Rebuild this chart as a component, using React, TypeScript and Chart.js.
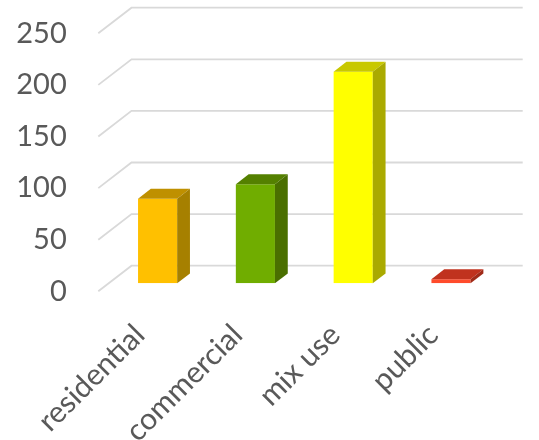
import React, { useEffect, useRef } from "react";
import { Chart, registerables } from "chart.js";

Chart.register(...registerables);

const categories = ["residential", "commercial", "mix use", "public"];
const values = [82, 96, 205, 4];
const frontColors = ["#FFC000", "#70AD00", "#FFFF00", "#FF4B2B"];
const topColors = ["#BF9000", "#548000", "#C8C800", "#C0321E"];
const sideColors = ["#A68000", "#4A6F00", "#AAAA00", "#A02A18"];
const yTickValues = [0, 50, 100, 150, 200, 250];

// Oblique projection offsets, relative to the plane of the bar fronts
const WALL_BACK = { dx: 22.8, dy: -17.6 };
const WALL_FRONT = { dx: -10.4, dy: 8 };
const BAR_DEPTH = { dx: 12.8, dy: -9.9 };

const FONT = "Lato, 'Open Sans', sans-serif";

const depthPlugin = {
  id: "depth3d",
  beforeDatasetsDraw(chart: any) {
    const { ctx, chartArea, scales } = chart;
    const y = scales.y;
    ctx.save();
    ctx.strokeStyle = "#D9D9D9";
    ctx.lineWidth = 1.8;
    ctx.lineJoin = "miter";
    for (const v of yTickValues) {
      const py = y.getPixelForValue(v);
      ctx.beginPath();
      ctx.moveTo(chartArea.left + WALL_FRONT.dx, py + WALL_FRONT.dy);
      ctx.lineTo(chartArea.left + WALL_BACK.dx, py + WALL_BACK.dy);
      ctx.lineTo(chartArea.right + WALL_BACK.dx, py + WALL_BACK.dy);
      ctx.stroke();
    }
    ctx.restore();
  },
  afterDatasetsDraw(chart: any) {
    const { ctx } = chart;
    const meta = chart.getDatasetMeta(0);
    ctx.save();
    meta.data.forEach((bar: any, i: number) => {
      const { x, y, base, width } = bar.getProps(["x", "y", "base", "width"], true);
      const l = x - width / 2;
      const r = x + width / 2;
      const t = Math.min(y, base);
      const b = Math.max(y, base);
      const { dx, dy } = BAR_DEPTH;
      // top face
      ctx.fillStyle = topColors[i];
      ctx.beginPath();
      ctx.moveTo(l, t);
      ctx.lineTo(l + dx, t + dy);
      ctx.lineTo(r + dx, t + dy);
      ctx.lineTo(r, t);
      ctx.closePath();
      ctx.fill();
      // side face
      ctx.fillStyle = sideColors[i];
      ctx.beginPath();
      ctx.moveTo(r, t);
      ctx.lineTo(r + dx, t + dy);
      ctx.lineTo(r + dx, b + dy);
      ctx.lineTo(r, b);
      ctx.closePath();
      ctx.fill();
    });
    ctx.restore();
  },
};

// Fixed axis box sizes, with no extra label overhang padding
const fixBox = (size: { width?: number; height?: number }) => (s: any) => {
  if (size.width !== undefined) s.width = size.width;
  if (size.height !== undefined) s.height = size.height;
  s.paddingTop = 0;
  s.paddingBottom = 0;
  s.paddingLeft = 0;
  s.paddingRight = 0;
};

export default function App() {
  const canvasRef = useRef<HTMLCanvasElement | null>(null);

  useEffect(() => {
    if (!canvasRef.current) return;
    const chart = new Chart(canvasRef.current, {
      type: "bar",
      data: {
        labels: categories,
        datasets: [
          {
            data: values,
            backgroundColor: frontColors,
            borderWidth: 0,
            barPercentage: 0.4,
            categoryPercentage: 1,
          },
        ],
      },
      options: {
        responsive: false,
        animation: false,
        layout: { padding: { top: 25.3, right: 39.1, left: 0, bottom: 0 } },
        plugins: { legend: { display: false }, tooltip: { enabled: false } },
        scales: {
          x: {
            grid: { display: false, drawTicks: false },
            border: { display: false },
            ticks: {
              minRotation: 45,
              maxRotation: 45,
              autoSkip: false,
              padding: 34,
              labelOffset: -18,
              color: "#595959",
              font: { family: FONT, size: 30 },
            },
            afterFit: fixBox({ height: 156.7 }),
          },
          y: {
            min: 0,
            max: 250,
            grid: { display: false, drawTicks: false },
            border: { display: false },
            ticks: {
              stepSize: 50,
              padding: 42,
              labelOffset: 8,
              color: "#595959",
              font: { family: FONT, size: 29 },
            },
            afterFit: fixBox({ width: 108.7 }),
          },
        },
      },
      plugins: [depthPlugin],
    });
    return () => chart.destroy();
  }, []);

  return (
    <div style={{ position: "fixed", left: 0, top: 0, width: 539, height: 440, background: "#fff" }}>
      <canvas ref={canvasRef} width={539} height={440} />
    </div>
  );
}
